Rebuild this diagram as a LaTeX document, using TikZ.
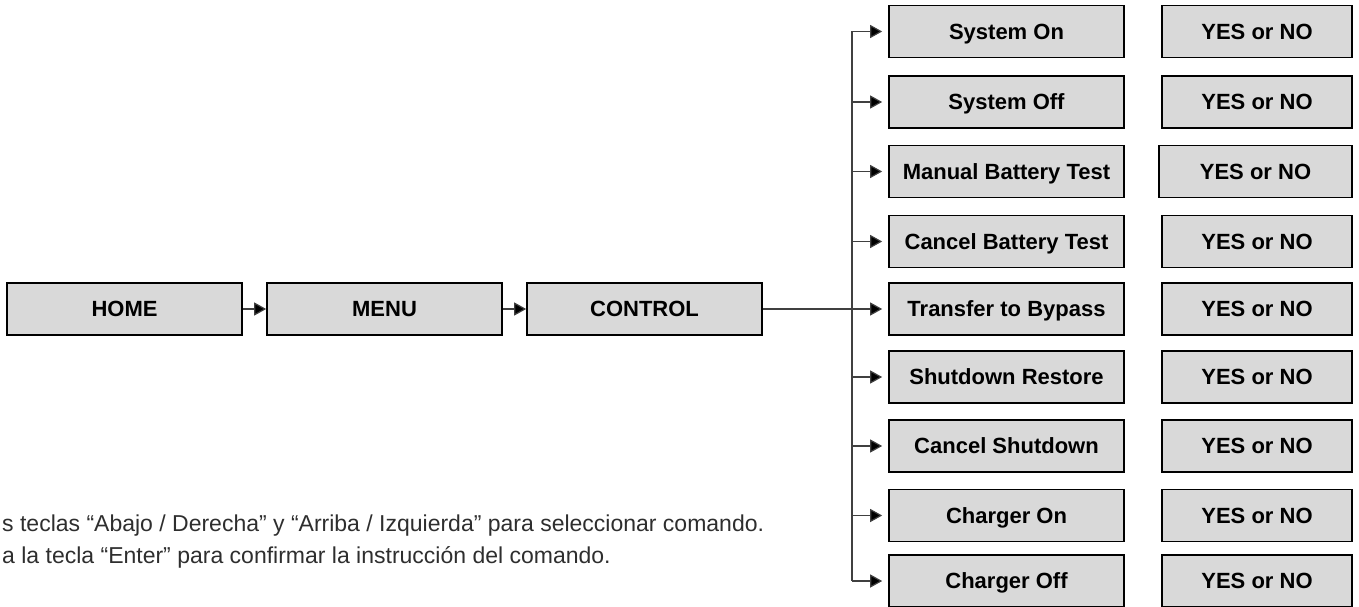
\documentclass[tikz,border=0pt]{standalone}
\usepackage{fontspec}
\setmainfont{Liberation Sans}
\usetikzlibrary{arrows.meta}
\definecolor{boxfill}{HTML}{D9D9D9}
\definecolor{linegray}{HTML}{404040}
\definecolor{txtgray}{HTML}{2E2E2E}
\begin{document}
\begin{tikzpicture}[x=1pt,y=-1pt,
  box/.style={draw=black,line width=1.6pt,fill=boxfill,minimum width=235pt,minimum height=52pt,inner sep=0pt,text height=15.5pt,text depth=0pt,font=\fontsize{22}{24}\selectfont\bfseries},
  ynbox/.style={box,minimum width=190pt},
  wire/.style={draw=linegray,line width=1.2pt},
  conn/.style={wire,-{Triangle[length=12pt,width=13pt,fill=black]}},
  gap/.style={shorten >=6pt},
  note/.style={anchor=base west,inner sep=0pt,text=txtgray,font=\fontsize{23}{26}\selectfont}
]
\useasboundingbox (0,0) rectangle (1359,607);
% main chain
\node[box] (home) at (124.5,309) {HOME};
\node[box] (menu) at (384.5,309) {MENU};
\node[box] (control) at (644.5,309) {CONTROL};
% command column
\node[box] (r1) at (1006.5,31.5) {System On};
\node[box] (r2) at (1006.5,102) {System Off};
\node[box] (r3) at (1006.5,171.5) {Manual Battery Test};
\node[box] (r4) at (1006.5,241.5) {Cancel Battery Test};
\node[box] (r5) at (1006.5,309) {Transfer to Bypass};
\node[box] (r6) at (1006.5,377) {Shutdown Restore};
\node[box] (r7) at (1006.5,446) {Cancel Shutdown};
\node[box] (r8) at (1006.5,515.5) {Charger On};
\node[box] (r9) at (1006.5,581) {Charger Off};
% answer column
\node[ynbox] (y1) at (1257,31.5) {YES or NO};
\node[ynbox] (y2) at (1257,102) {YES or NO};
\node[ynbox,minimum width=193pt] (y3) at (1255.5,171.5) {YES or NO};
\node[ynbox] (y4) at (1257,241.5) {YES or NO};
\node[ynbox] (y5) at (1257,309) {YES or NO};
\node[ynbox] (y6) at (1257,377) {YES or NO};
\node[ynbox] (y7) at (1257,446) {YES or NO};
\node[ynbox] (y8) at (1257,515.5) {YES or NO};
\node[ynbox] (y9) at (1257,581) {YES or NO};
% connectors
\draw[conn] (home) -- (menu);
\draw[conn] (menu) -- (control);
\coordinate (bus) at (852,309);
\draw[wire] (r1.west -| bus) -- (r9.west -| bus);
\draw[conn,gap] (control) -- (r5);
\foreach \i in {1,2,3,4,6,7,8,9}{
  \draw[conn,gap] (r\i.west -| bus) -- (r\i.west);
}
% notes
\node[note] (n1) at (2,531) {s teclas “Abajo / Derecha” y “Arriba / Izquierda” para seleccionar comando.};
\node[note] (n2) at (2,563) {a la tecla “Enter” para confirmar la instrucción del comando.};
\end{tikzpicture}
\end{document}
